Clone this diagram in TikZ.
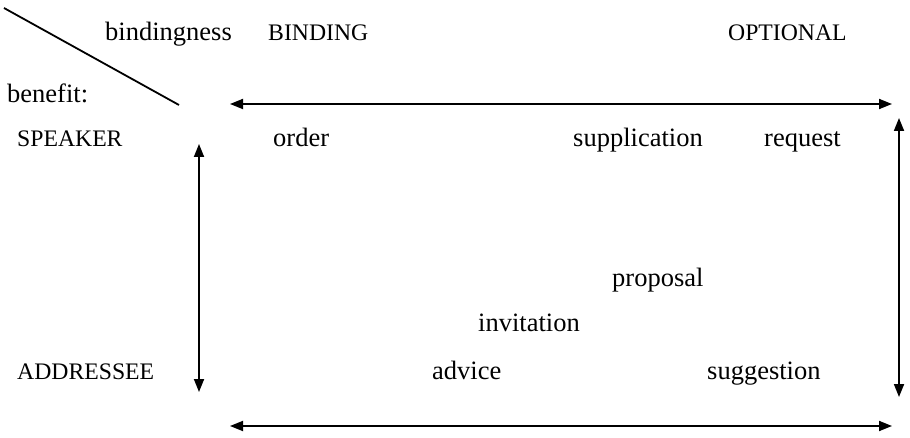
\documentclass[tikz,border=0pt]{standalone}
\usepackage{fontspec}
\setmainfont{Liberation Serif}
\usetikzlibrary{arrows.meta}
\begin{document}
\begin{tikzpicture}[x=1pt,y=-1pt,
  lbl/.style={anchor=base west,inner sep=0pt,font=\fontsize{26.5}{30}\selectfont},
  caps/.style={anchor=base west,inner sep=0pt,font=\fontsize{23.7}{28}\selectfont},
  axis/.style={line width=1.8pt,{Triangle[length=13pt,width=10pt]}-{Triangle[length=13pt,width=10pt]}},
  rule/.style={line width=1.8pt}]
\useasboundingbox (0,0) rectangle (910,438);

% header row
\node[lbl]  (bindingness) at (105,41) {bindingness};
\node[caps] (binding)     at (268,41) {BINDING};
\node[caps] (optional)    at (728,41) {OPTIONAL};
\node[lbl]  (benefit)     at (7,103)  {benefit:};

% row labels
\node[caps] (speaker)   at (17,147) {SPEAKER};
\node[caps] (addressee) at (17,379) {ADDRESSEE};

% speech acts
\node[lbl] (order)        at (273,147) {order};
\node[lbl] (supplication) at (573,147) {supplication};
\node[lbl] (request)      at (764,147) {request};
\node[lbl] (proposal)     at (612,287) {proposal};
\node[lbl] (invitation)   at (478,331) {invitation};
\node[lbl] (advice)       at (432,379) {advice};
\node[lbl] (suggestion)   at (707,379) {suggestion};

% axis end points
\coordinate (dA) at (4,8);
\coordinate (dB) at (179,105);
\coordinate (tL) at (230,104);
\coordinate (tR) at (892,104);
\coordinate (bL) at (230,426);
\coordinate (bR) at (892,426);
\coordinate (lT) at (199,144);
\coordinate (lB) at (199,392);
\coordinate (rT) at (899,118);
\coordinate (rB) at (899,397);

% corner divider and axes
\draw[rule] (dA) -- (dB);
\draw[axis] (tL) -- (tR);
\draw[axis] (bL) -- (bR);
\draw[axis] (lT) -- (lB);
\draw[axis] (rT) -- (rB);
\end{tikzpicture}
\end{document}
